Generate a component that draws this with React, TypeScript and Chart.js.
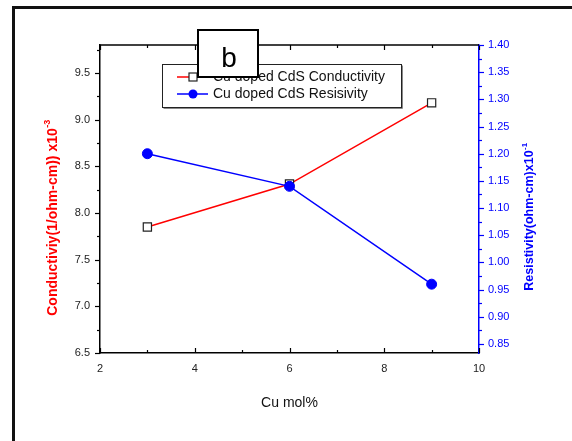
import React, { useEffect, useRef } from 'react';
import { Chart, registerables } from 'chart.js';

Chart.register(...registerables);

// ---- data ----
const cuMol = [3, 6, 9];
const conductivity = [7.85, 8.31, 9.18];
const resistivity = [1.2, 1.14, 0.96];

const xTicks = [2, 4, 6, 8, 10];
const leftTicks = [6.5, 7.0, 7.5, 8.0, 8.5, 9.0, 9.5];
const rightTicks = [0.85, 0.9, 0.95, 1.0, 1.05, 1.1, 1.15, 1.2, 1.25, 1.3, 1.35, 1.4];

const seriesLabels = ['Cu doped CdS Conductivity', 'Cu doped CdS Resisivity'];
const panelLabel = 'b';
const xTitle = 'Cu mol%';
const leftTitle = 'Conductiviy(1/ohm-cm)) x10';
const leftTitleSup = '-3';
const rightTitle = 'Resistivity(ohm-cm)x10';
const rightTitleSup = '-1';

const FONT = '"Liberation Sans", Arial, Helvetica, sans-serif';
const RED = '#ff0000';
const BLUE = '#0000ff';

function minors(major: number[], min: number, max: number): number[] {
  const out: number[] = [];
  const step = major[1] - major[0];
  for (let i = -1; i < major.length; i++) {
    const v = (i < 0 ? major[0] - step : major[i]) + step / 2;
    if (v > min && v < max) out.push(v);
  }
  return out;
}

const decorPlugin = {
  id: 'decor',
  afterDraw(chart: any) {
    const { ctx, chartArea, scales } = chart;
    const xs = scales.x;
    const yl = scales.y;
    const yr = scales.y1;
    const { left, right, top, bottom } = chartArea;
    ctx.save();

    // top axis line
    ctx.strokeStyle = '#000';
    ctx.lineWidth = 1.5;
    ctx.beginPath();
    ctx.moveTo(left, top);
    ctx.lineTo(right, top);
    ctx.stroke();

    // x ticks (inward, bottom and top)
    ctx.lineWidth = 1.2;
    const xMin = minors(xTicks, xs.min, xs.max);
    const drawX = (vals: number[], len: number) => {
      vals.forEach((v) => {
        const px = Math.round(xs.getPixelForValue(v)) + 0.5;
        ctx.beginPath();
        ctx.moveTo(px, bottom);
        ctx.lineTo(px, bottom - len);
        ctx.moveTo(px, top);
        ctx.lineTo(px, top + len);
        ctx.stroke();
      });
    };
    drawX(xTicks, 5);
    drawX(xMin, 3);

    // left ticks (outward)
    ctx.strokeStyle = '#000';
    const lMin = minors(leftTicks, yl.min, yl.max);
    const drawL = (vals: number[], len: number) => {
      vals.forEach((v) => {
        const py = Math.round(yl.getPixelForValue(v)) + 0.5;
        ctx.beginPath();
        ctx.moveTo(left, py);
        ctx.lineTo(left - len, py);
        ctx.stroke();
      });
    };
    drawL(leftTicks, 5);
    drawL(lMin, 3);

    // right ticks (outward, blue)
    ctx.strokeStyle = BLUE;
    const rMin = minors(rightTicks, yr.min, yr.max);
    const drawR = (vals: number[], len: number) => {
      vals.forEach((v) => {
        const py = Math.round(yr.getPixelForValue(v)) + 0.5;
        ctx.beginPath();
        ctx.moveTo(right, py);
        ctx.lineTo(right + len, py);
        ctx.stroke();
      });
    };
    drawR(rightTicks, 5);
    drawR(rMin, 3);

    // axis titles
    const drawRotTitle = (
      text: string,
      sup: string,
      cx: number,
      cy: number,
      color: string,
      size: number
    ) => {
      ctx.save();
      ctx.translate(cx, cy);
      ctx.rotate(-Math.PI / 2);
      ctx.fillStyle = color;
      const supSize = Math.round(size * 0.65);
      ctx.font = `bold ${size}px ${FONT}`;
      const w1 = ctx.measureText(text).width;
      ctx.font = `bold ${supSize}px ${FONT}`;
      const w2 = ctx.measureText(sup).width;
      const start = -(w1 + w2) / 2;
      ctx.textBaseline = 'middle';
      ctx.textAlign = 'left';
      ctx.font = `bold ${size}px ${FONT}`;
      ctx.fillText(text, start, 0);
      ctx.font = `bold ${supSize}px ${FONT}`;
      ctx.fillText(sup, start + w1 + 0.5, -size * 0.42);
      ctx.restore();
    };
    drawRotTitle(leftTitle, leftTitleSup, 53, 218, RED, 14);
    drawRotTitle(rightTitle, rightTitleSup, 530, 217, BLUE, 12.5);

    ctx.fillStyle = '#111';
    ctx.font = `14px ${FONT}`;
    ctx.textAlign = 'center';
    ctx.textBaseline = 'middle';
    ctx.fillText(xTitle, (left + right) / 2, 403);

    // legend
    const lx = 162, ly = 64, lw = 239, lh = 43;
    ctx.fillStyle = '#fff';
    ctx.fillRect(lx, ly, lw, lh);
    ctx.strokeStyle = '#222';
    ctx.lineWidth = 1;
    ctx.strokeRect(lx + 0.5, ly + 0.5, lw, lh);
    ctx.strokeStyle = '#888';
    ctx.beginPath();
    ctx.moveTo(lx + 1.5, ly + lh + 1.5);
    ctx.lineTo(lx + lw + 1.5, ly + lh + 1.5);
    ctx.lineTo(lx + lw + 1.5, ly + 1.5);
    ctx.stroke();

    const rows = [77, 94];
    // row 1: red line + open square
    ctx.strokeStyle = RED;
    ctx.lineWidth = 1.5;
    ctx.beginPath();
    ctx.moveTo(177, rows[0]);
    ctx.lineTo(208, rows[0]);
    ctx.stroke();
    ctx.fillStyle = '#fff';
    ctx.fillRect(189, rows[0] - 4, 8, 8);
    ctx.strokeStyle = '#222';
    ctx.lineWidth = 1.2;
    ctx.strokeRect(189, rows[0] - 4, 8, 8);
    // row 2: blue line + dot
    ctx.strokeStyle = BLUE;
    ctx.lineWidth = 1.5;
    ctx.beginPath();
    ctx.moveTo(177, rows[1]);
    ctx.lineTo(208, rows[1]);
    ctx.stroke();
    ctx.fillStyle = BLUE;
    ctx.beginPath();
    ctx.arc(193, rows[1], 4.5, 0, Math.PI * 2);
    ctx.fill();

    ctx.fillStyle = '#111';
    ctx.font = `14px ${FONT}`;
    ctx.textAlign = 'left';
    ctx.textBaseline = 'middle';
    ctx.fillText(seriesLabels[0], 213, rows[0] + 0.5);
    ctx.fillText(seriesLabels[1], 213, rows[1] + 0.5);

    // panel label box
    ctx.fillStyle = '#fff';
    ctx.fillRect(198, 30, 60, 47);
    ctx.strokeStyle = '#000';
    ctx.lineWidth = 2;
    ctx.strokeRect(198, 30, 60, 47);
    ctx.fillStyle = '#000';
    ctx.font = `28px ${FONT}`;
    ctx.textAlign = 'center';
    ctx.textBaseline = 'alphabetic';
    ctx.fillText(panelLabel, 229, 67);

    // outer frame
    ctx.strokeStyle = '#111';
    ctx.lineWidth = 3;
    ctx.strokeRect(13.5, 7.5, 700, 600);

    ctx.restore();
  },
};

export default function App() {
  const ref = useRef<HTMLCanvasElement>(null);

  useEffect(() => {
    document.body.style.margin = '0';
    const canvas = ref.current;
    if (!canvas) return;
    const chart = new Chart(canvas, {
      type: 'line',
      data: {
        datasets: [
          {
            label: seriesLabels[0],
            data: cuMol.map((x, i) => ({ x, y: conductivity[i] })),
            xAxisID: 'x',
            yAxisID: 'y',
            borderColor: RED,
            borderWidth: 1.5,
            pointStyle: 'rect',
            pointRadius: 5.8,
            pointBackgroundColor: '#fff',
            pointBorderColor: '#222',
            pointBorderWidth: 1.2,
            order: 1,
          },
          {
            label: seriesLabels[1],
            data: cuMol.map((x, i) => ({ x, y: resistivity[i] })),
            xAxisID: 'x',
            yAxisID: 'y1',
            borderColor: BLUE,
            borderWidth: 1.5,
            pointStyle: 'circle',
            pointRadius: 5,
            pointBackgroundColor: BLUE,
            pointBorderColor: BLUE,
            pointBorderWidth: 1,
            order: 0,
          },
        ],
      },
      options: {
        responsive: false,
        animation: false,
        layout: { padding: { top: 45, left: 0, right: 0, bottom: 0 } },
        plugins: {
          legend: { display: false },
          tooltip: { enabled: false },
          title: { display: false },
        },
        scales: {
          x: {
            type: 'linear',
            position: 'bottom',
            min: 2,
            max: 10,
            afterBuildTicks: (s: any) => {
              s.ticks = xTicks.map((v) => ({ value: v }));
            },
            afterFit: (s: any) => {
              s.height = 88;
            },
            grid: { display: true, drawOnChartArea: false, drawTicks: false },
            border: { display: true, color: '#000', width: 1.5 },
            ticks: {
              padding: 9,
              color: '#222',
              font: { family: FONT, size: 11 },
              maxRotation: 0,
              callback: (v: any) => String(v),
            },
          },
          y: {
            type: 'linear',
            position: 'left',
            min: 6.5,
            max: 9.8,
            afterBuildTicks: (s: any) => {
              s.ticks = leftTicks.map((v) => ({ value: v }));
            },
            afterFit: (s: any) => {
              s.width = 100;
            },
            grid: { display: true, drawOnChartArea: false, drawTicks: false },
            border: { display: true, color: '#000', width: 1.5 },
            ticks: {
              padding: 10,
              color: '#222',
              font: { family: FONT, size: 11 },
              callback: (v: any) => Number(v).toFixed(1),
            },
          },
          y1: {
            type: 'linear',
            position: 'right',
            min: 0.8334,
            max: 1.4,
            afterBuildTicks: (s: any) => {
              s.ticks = rightTicks.map((v) => ({ value: v }));
            },
            afterFit: (s: any) => {
              s.width = 93;
            },
            grid: { display: true, drawOnChartArea: false, drawTicks: false },
            border: { display: true, color: BLUE, width: 1.5 },
            ticks: {
              padding: 9,
              color: BLUE,
              font: { family: FONT, size: 11 },
              callback: (v: any) => Number(v).toFixed(2),
            },
          },
        },
      },
      plugins: [decorPlugin],
    });
    return () => chart.destroy();
  }, []);

  return (
    <canvas
      ref={ref}
      width={572}
      height={441}
      style={{ display: 'block', width: 572, height: 441 }}
    />
  );
}
